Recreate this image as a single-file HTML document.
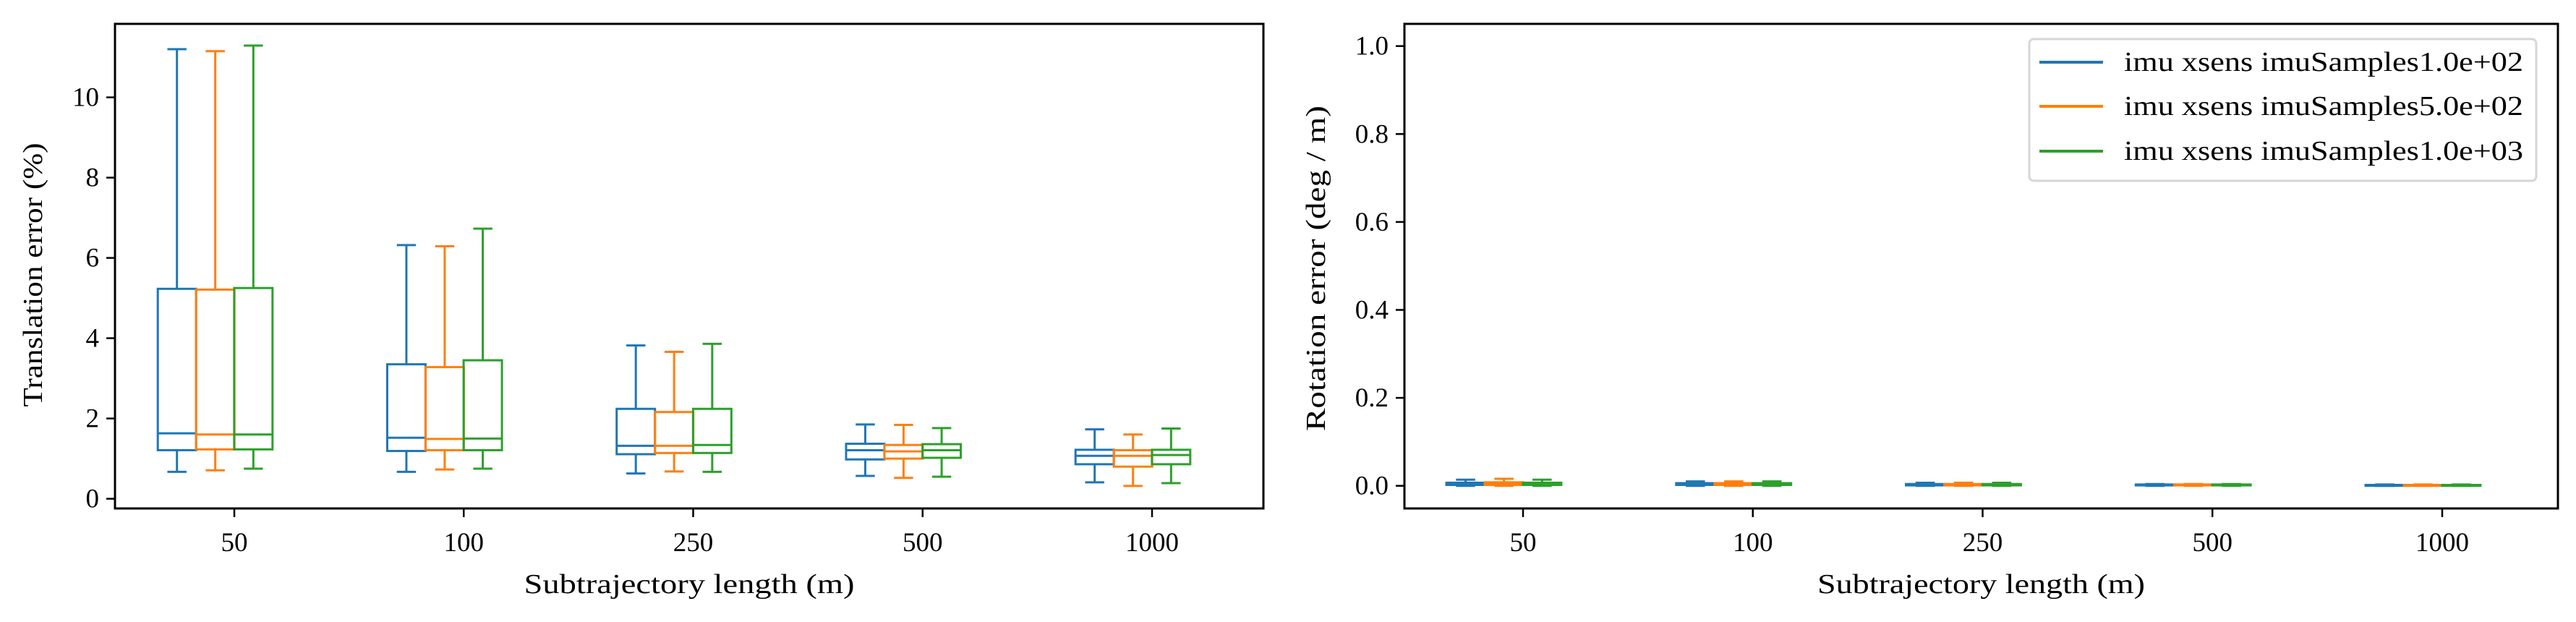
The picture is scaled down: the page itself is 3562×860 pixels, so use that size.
<!DOCTYPE html>
<html><head><meta charset="utf-8"><style>
html,body{margin:0;padding:0;background:#fff;}
svg{display:block;font-family:"Liberation Serif",serif;}
</style></head><body>
<svg id="chart" width="3562" height="860" viewBox="0 0 3562 860" xmlns="http://www.w3.org/2000/svg"></svg>
<script>
const categories = ["50","100","250","500","1000"];
const seriesNames = ["imu xsens imuSamples1.0e+02","imu xsens imuSamples5.0e+02","imu xsens imuSamples1.0e+03"];
const colors = ["#1f77b4","#ff7f0e","#2ca02c"];
// translation error [low whisker, q1, median, q3, high whisker] per series per category
const transS1 = [[0.67,1.21,1.63,5.23,11.2],[0.67,1.19,1.52,3.35,6.32],[0.63,1.11,1.32,2.24,3.82],[0.57,0.98,1.21,1.37,1.85],[0.41,0.86,1.07,1.22,1.73]];
const transS2 = [[0.71,1.23,1.6,5.21,11.15],[0.73,1.21,1.49,3.28,6.29],[0.68,1.14,1.32,2.16,3.66],[0.52,1.0,1.18,1.34,1.84],[0.32,0.8,1.07,1.21,1.6]];
const transS3 = [[0.75,1.23,1.6,5.25,11.29],[0.75,1.21,1.5,3.45,6.73],[0.67,1.14,1.34,2.24,3.86],[0.55,1.02,1.21,1.36,1.76],[0.39,0.86,1.09,1.22,1.75]];
const rotS1 = [[0.0,0.002,0.004,0.007,0.014],[0.0,0.002,0.004,0.006,0.010],[0.0,0.001,0.002,0.004,0.007],[0.0,0.001,0.002,0.003,0.004],[0.0,0.0,0.001,0.002,0.003]];
const rotS2 = [[0.0,0.002,0.005,0.008,0.016],[0.0,0.002,0.004,0.006,0.010],[0.0,0.001,0.002,0.004,0.007],[0.0,0.001,0.002,0.003,0.004],[0.0,0.0,0.001,0.002,0.003]];
const rotS3 = [[0.0,0.002,0.004,0.007,0.014],[0.0,0.002,0.004,0.006,0.010],[0.0,0.001,0.002,0.004,0.007],[0.0,0.001,0.002,0.003,0.004],[0.0,0.0,0.001,0.002,0.003]];
const transTicks = [0,2,4,6,8,10];
const rotTicks = [0.0,0.2,0.4,0.6,0.8,1.0];

const NS="http://www.w3.org/2000/svg";
const svg=document.getElementById('chart');
function el(tag,attrs,parent){const e=document.createElementNS(NS,tag);for(const k in attrs)e.setAttribute(k,attrs[k]);(parent||svg).appendChild(e);return e;}

function panel(cfg){
  const g=el('g',{});
  
  
  const xs=i=>cfg.x0+i*cfg.dx;
  const ys=v=>cfg.yZero-(v)*cfg.yScale;
  const offs=[-0.25,-0.083,0.083], bw=0.167;
  [cfg.s1,cfg.s2,cfg.s3].forEach((ser,si)=>{
    ser.forEach((d,ci)=>{
      const bg=el('g',{stroke:colors[si],'stroke-width':3,fill:'none'},g);
      
      
      const cx=xs(ci+offs[si]), hw=bw*cfg.dx/2, cw=hw/2;
      el('line',{x1:cx,x2:cx,y1:ys(d[0]),y2:ys(d[1])},bg);
      el('line',{x1:cx,x2:cx,y1:ys(d[3]),y2:ys(d[4])},bg);
      el('line',{x1:cx-cw,x2:cx+cw,y1:ys(d[0]),y2:ys(d[0])},bg);
      el('line',{x1:cx-cw,x2:cx+cw,y1:ys(d[4]),y2:ys(d[4])},bg);
      el('rect',{x:cx-hw,y:ys(d[3]),width:2*hw,height:Math.max(ys(d[1])-ys(d[3]),0.5)},bg);
      el('line',{x1:cx-hw,x2:cx+hw,y1:ys(d[2]),y2:ys(d[2])},bg);
    });
  });
  const fr=el('rect',{x:cfg.L,y:cfg.T,width:cfg.R-cfg.L,height:cfg.B-cfg.T,fill:'none',stroke:'#000','stroke-width':3},g);
  
  
  categories.forEach((c,i)=>{
    el('line',{x1:xs(i),x2:xs(i),y1:cfg.B,y2:cfg.B+12,stroke:'#000','stroke-width':2.5},g);
    const t=el('text',{x:xs(i),y:762,'text-anchor':'middle','font-size':37},g);
    t.textContent=c;
    
    
  });
  cfg.ticks.forEach(v=>{
    el('line',{x1:cfg.L-12,x2:cfg.L,y1:ys(v),y2:ys(v),stroke:'#000','stroke-width':2.5},g);
    const t=el('text',{x:cfg.L-22,y:ys(v)+12,'text-anchor':'end','font-size':37},g);
    t.textContent=cfg.fmt(v);
    
    
  });
  const xl=el('text',{x:(cfg.L+cfg.R)/2,y:820,'text-anchor':'middle','font-size':38,textLength:cfg.xlw,lengthAdjust:'spacingAndGlyphs'},g);
  xl.textContent='Subtrajectory length (m)';
  
  
  const yl=el('text',{x:0,y:0,'text-anchor':'middle','font-size':38,textLength:cfg.ylw,lengthAdjust:'spacingAndGlyphs',transform:'translate('+cfg.ylx+','+cfg.ylc+') rotate(-90)'},g);
  yl.textContent=cfg.ytitle;
  
  
}
panel({name:'translation-panel',L:159,R:1747,T:33,B:703,x0:324,dx:317.25,yZero:689.6,yScale:55.5,
  s1:transS1,s2:transS2,s3:transS3,ticks:transTicks,fmt:v=>String(v),ytitle:'Translation error (%)',ylx:58,ylc:380,ylw:365,xlw:457});
panel({name:'rotation-panel',L:1942,R:3537,T:33,B:703,x0:2106,dx:317.75,yZero:671.7,yScale:608,
  s1:rotS1,s2:rotS2,s3:rotS3,ticks:rotTicks,fmt:v=>v.toFixed(1),ytitle:'Rotation error (deg / m)',ylx:1832,ylc:371,ylw:450,xlw:453});

const lg=el('g',{});


el('rect',{x:2806,y:54,width:701,height:196,rx:6,fill:'#fff',stroke:'#d6d6d6','stroke-width':3},lg);
[86,147,209].forEach((y,i)=>{
  const e=el('g',{},lg);
  
  
  el('line',{x1:2820,x2:2908,y1:y,y2:y,stroke:colors[i],'stroke-width':4},e);
  const t=el('text',{x:2937,y:y+12,'font-size':38,textLength:552,lengthAdjust:'spacingAndGlyphs'},e);
  t.textContent=seriesNames[i];
});
</script>
</body></html>
